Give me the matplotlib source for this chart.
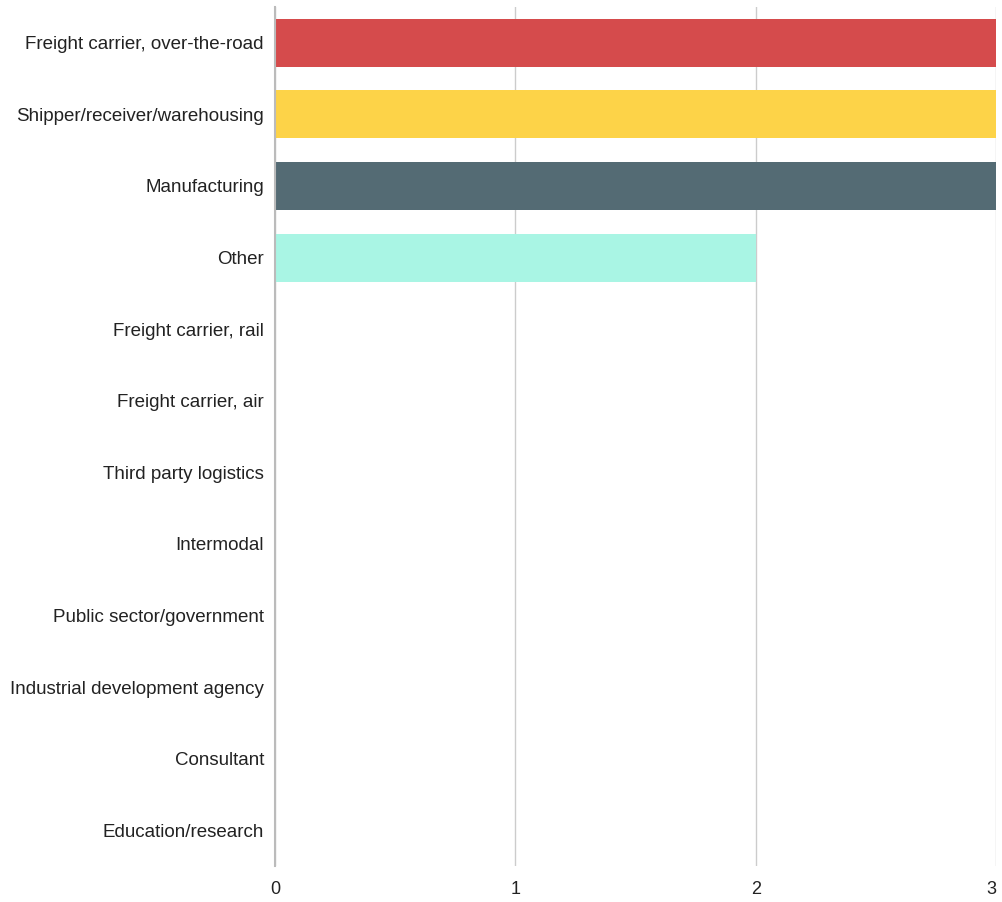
import matplotlib
matplotlib.use("Agg")
import matplotlib.pyplot as plt

categories = ['Freight carrier, over-the-road', 'Shipper/receiver/warehousing',
              'Manufacturing', 'Other', 'Freight carrier, rail', 'Freight carrier, air',
              'Third party logistics', 'Intermodal', 'Public sector/government',
              'Industrial development agency', 'Consultant', 'Education/research']
counts = [3, 3, 3, 2, 0, 0, 0, 0, 0, 0, 0, 0]
colors = ['#D54B4C', '#FDD348', '#546B74', '#A9F5E4'] + ['#cccccc'] * 8
xticks = [0, 1, 2, 3]

fig = plt.figure(figsize=(10.03, 9.02), dpi=100)
ax = fig.add_axes([275 / 1003, 1 - 866 / 902, 721 / 1003, 859 / 902])

ypos = range(len(categories))
ax.barh(ypos, counts, height=0.67, color=colors, zorder=2)
ax.set_ylim(len(categories) - 0.5, -0.5)
ax.set_xlim(0, 3)
ax.set_xticks(xticks)
ax.set_xticklabels([str(t) for t in xticks], fontsize=13, family='Liberation Sans', color='#222222')
ax.xaxis.get_majorticklabels()[-1].set_horizontalalignment('right')
ax.set_yticks(list(ypos))
ax.set_yticklabels(categories, fontsize=13.5, family='Liberation Sans', color='#222222')
ax.tick_params(axis='y', length=0, pad=8)
ax.tick_params(axis='x', length=0, pad=11)
ax.grid(axis='x', color='#cccccc', linewidth=1, zorder=0)
for s in ['top', 'right', 'bottom']:
    ax.spines[s].set_visible(False)
ax.spines['left'].set_color('#bbbbbb')
ax.spines['left'].set_linewidth(1.5)
ax.spines['left'].set_zorder(3)

fig.savefig('out.png', dpi=100)
